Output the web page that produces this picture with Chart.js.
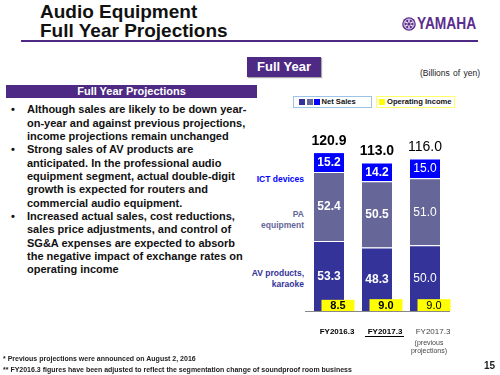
<!DOCTYPE html>
<html><head><meta charset="utf-8">
<script src="https://cdn.jsdelivr.net/npm/chart.js@4/dist/chart.umd.min.js"></script>
<style>
body{margin:0;width:500px;height:375px;position:relative;background:#fff;font-family:"Liberation Sans",Arial,sans-serif;overflow:hidden;color:#111}
.a{position:absolute;white-space:nowrap}
.purple{background:#4E2A84}
.title{left:40px;top:2px;font-weight:bold;font-size:19px;line-height:19px;color:#111}
.bul{left:27px;font-weight:bold;font-size:11px;line-height:13.33px;color:#111}
.bul .dot{position:absolute;left:-16px}
.side{right:196px;text-align:right;font-weight:bold;font-size:8.5px;line-height:11px}
.leg{top:96px;height:10px;border:1px solid;background:#fff;font-weight:bold;font-size:7.6px;line-height:10px;color:#111}
.sq{display:inline-block;width:6px;height:6px;margin-right:1.5px;vertical-align:-0.5px}
</style></head><body>
<div class="a title">Audio Equipment<br>Full Year Projections</div>
<div class="a purple" style="left:21px;top:40px;width:457px;height:2px"></div>
<svg class="a" style="left:402px;top:17px" width="14" height="14" viewBox="0 0 14 14">
<circle cx="7" cy="7" r="6.8" fill="#5B2D8E"/><circle cx="7" cy="7" r="5" fill="none" stroke="#fff" stroke-width="0.8"/>
<g stroke="#fff" stroke-width="1.3"><line x1="7" y1="2.5" x2="7" y2="11.5"/><line x1="3.1" y1="4.7" x2="10.9" y2="9.3"/><line x1="3.1" y1="9.3" x2="10.9" y2="4.7"/></g>
<circle cx="7" cy="7" r="1.6" fill="#5B2D8E"/></svg>
<div class="a" style="left:417px;top:16px;font-weight:bold;font-size:16px;line-height:16px;color:#5B2D8E;transform:scaleX(0.86);transform-origin:0 0">YAMAHA</div>

<div class="a purple" style="left:247px;top:57px;width:74px;height:20px;color:#fff;font-weight:bold;font-size:13px;line-height:20px;text-align:center;box-shadow:1px 1px 1px #aaa">Full Year</div>
<div class="a" style="left:420px;top:69px;font-size:8.5px;line-height:8.5px;color:#222;word-spacing:1px">(Billions of yen)</div>

<div class="a leg" style="left:293px;width:77px;border-color:#9DC3E6"><span style="margin-left:5px" class="sq" id="s1"></span><span class="sq" id="s2"></span><span class="sq" id="s3"></span><span id="l1"></span></div>
<div class="a leg" style="left:376px;width:77px;border-color:#FFFF66"><span style="margin-left:2px;margin-right:2px" class="sq" id="s4"></span><span id="l2"></span></div>

<div class="a purple" style="left:6px;top:85px;width:251px;height:13px;color:#fff;font-weight:bold;font-size:11px;line-height:13px;text-align:center">Full Year Projections</div>
<div class="a bul" style="top:103.3px"><span class="dot">•</span>Although sales are likely to be down year-<br>on-year and against previous projections,<br>income projections remain unchanged</div>
<div class="a bul" style="top:143.3px"><span class="dot">•</span>Strong sales of AV products are<br>anticipated. In the professional audio<br>equipment segment, actual double-digit<br>growth is expected for routers and<br>commercial audio equipment.</div>
<div class="a bul" style="top:210px"><span class="dot">•</span>Increased actual sales, cost reductions,<br>sales price adjustments, and control of<br>SG&amp;A expenses are expected to absorb<br>the negative impact of exchange rates on<br>operating income</div>

<div class="a side" id="t3" style="top:174px;color:#0000FF"></div>
<div class="a side" id="t2" style="top:208.5px;color:#666699"></div>
<div class="a side" id="t1" style="top:267.5px;color:#333399"></div>

<div style="position:absolute;left:240px;top:110px;width:260px;height:250px"><canvas id="c" width="260" height="250"></canvas></div>

<div class="a" style="left:3px;top:352.5px;font-weight:bold;font-size:7px;line-height:11.5px;color:#222">* Previous projections were announced on August 2, 2016<br>** FY2016.3 figures have been adjusted to reflect the segmentation change of soundproof room business</div>
<div class="a" style="left:484px;top:361px;font-weight:bold;font-size:10px;line-height:10px;color:#222">15</div>

<script>
const categories = ['FY2016.3', 'FY2017.3', 'FY2017.3'];
const categoryNote = ['', '', '(previous|projections)'];
const segmentNames = ['AV products,|karaoke', 'PA|equipment', 'ICT devices'];
const avKaraoke = [53.3, 48.3, 50.0];
const paEquipment = [52.4, 50.5, 51.0];
const ictDevices = [15.2, 14.2, 15.0];
const netSalesTotals = [120.9, 113.0, 116.0];
const operatingIncome = [8.5, 9.0, 9.0];
const legendNames = ['Net Sales', 'Operating Income'];

const colAV = '#333399', colPA = '#666699', colICT = '#0000FF', colOI = '#FFFF00';
document.getElementById('s1').style.background = colAV;
document.getElementById('s2').style.background = colPA;
document.getElementById('s3').style.background = colICT;
document.getElementById('s4').style.background = colOI;
document.getElementById('l1').textContent = legendNames[0];
document.getElementById('l2').textContent = legendNames[1];
['t1','t2','t3'].forEach((id, i) => {
  const el = document.getElementById(id);
  segmentNames[i].split('|').forEach((s, k) => { if (k) el.appendChild(document.createElement('br')); el.appendChild(document.createTextNode(s)); });
});

const FONT = '"Liberation Sans", Arial, sans-serif';
const boldIdx = i => i < 2;

const labelsPlugin = {
  id: 'valueLabels',
  afterDatasetsDraw(chart) {
    const ctx = chart.ctx, ys = chart.scales.y;
    ctx.save();
    ctx.textAlign = 'center';
    ctx.textBaseline = 'middle';
    chart.data.datasets.forEach((ds, di) => {
      chart.getDatasetMeta(di).data.forEach((bar, i) => {
        ctx.font = (boldIdx(i) ? 'bold ' : '') + '12px ' + FONT;
        ctx.fillStyle = '#fff';
        ctx.fillText(ds.data[i].toFixed(1), bar.x, (bar.y + bar.base) / 2 + 0.5);
      });
    });
    chart.getDatasetMeta(2).data.forEach((bar, i) => {
      ctx.font = (boldIdx(i) ? 'bold ' : '') + '14px ' + FONT;
      ctx.fillStyle = '#000';
      ctx.fillText(netSalesTotals[i].toFixed(1), bar.x, bar.y - 11);
    });
    const base = ys.getPixelForValue(0);
    chart.getDatasetMeta(0).data.forEach((bar, i) => {
      const top = ys.getPixelForValue(operatingIncome[i]);
      const cx = bar.x + 9, w = 33;
      ctx.fillStyle = colOI;
      ctx.fillRect(cx - w / 2, top, w, base - top);
      ctx.font = (boldIdx(i) ? 'bold ' : '') + '11px ' + FONT;
      ctx.fillStyle = '#000';
      ctx.fillText(operatingIncome[i].toFixed(1), cx, (top + base) / 2 + 0.5);
    });
    ctx.restore();
  },
  afterDraw(chart) {
    const ctx = chart.ctx, xs = chart.scales.x;
    ctx.save();
    ctx.textAlign = 'center';
    ctx.textBaseline = 'middle';
    categories.forEach((c, i) => {
      const x = xs.getPixelForTick(i) + 8;
      if (i === 1) {
        ctx.strokeStyle = '#000'; ctx.lineWidth = 1;
        ctx.beginPath(); ctx.moveTo(x - 20, xs.top + 25.5); ctx.lineTo(x + 19, xs.top + 25.5); ctx.stroke();
      }
      if (categoryNote[i]) {
        ctx.font = '7px ' + FONT; ctx.fillStyle = '#444';
        categoryNote[i].split('|').forEach((s, k) => ctx.fillText(s, x - 4, xs.top + 32 + k * 8));
      }
    });
    ctx.restore();
  }
};

new Chart(document.getElementById('c'), {
  type: 'bar',
  data: {
    labels: categories,
    datasets: [
      { label: 'AV products, karaoke', data: avKaraoke, backgroundColor: colAV },
      { label: 'PA equipment', data: paEquipment, backgroundColor: colPA },
      { label: 'ICT devices', data: ictDevices, backgroundColor: colICT }
    ].map(d => Object.assign(d, { borderColor: '#fff', borderWidth: { top: 1, left: 0, right: 0, bottom: 0 }, borderSkipped: false, categoryPercentage: 1, barPercentage: 0.625 }))
  },
  options: {
    responsive: false,
    animation: false,
    devicePixelRatio: 1,
    layout: { padding: { left: 65, right: 51, top: 17, bottom: 0 } },
    plugins: { legend: { display: false }, tooltip: { enabled: false } },
    scales: {
      x: {
        stacked: true,
        grid: { display: false, drawTicks: false },
        border: { display: true, color: '#888', width: 1 },
        ticks: {
          padding: 16,
          labelOffset: 8,
          maxRotation: 0,
          autoSkip: false,
          font: ctx => ({ family: FONT, size: 8, weight: boldIdx(ctx.index) ? 'bold' : 'normal' }),
          color: ctx => boldIdx(ctx.index) ? '#000' : '#444'
        },
        afterFit: s => { s.height = 49; }
      },
      y: { stacked: true, display: false, min: 0, max: 140 }
    }
  },
  plugins: [labelsPlugin]
});
</script>
</body></html>
